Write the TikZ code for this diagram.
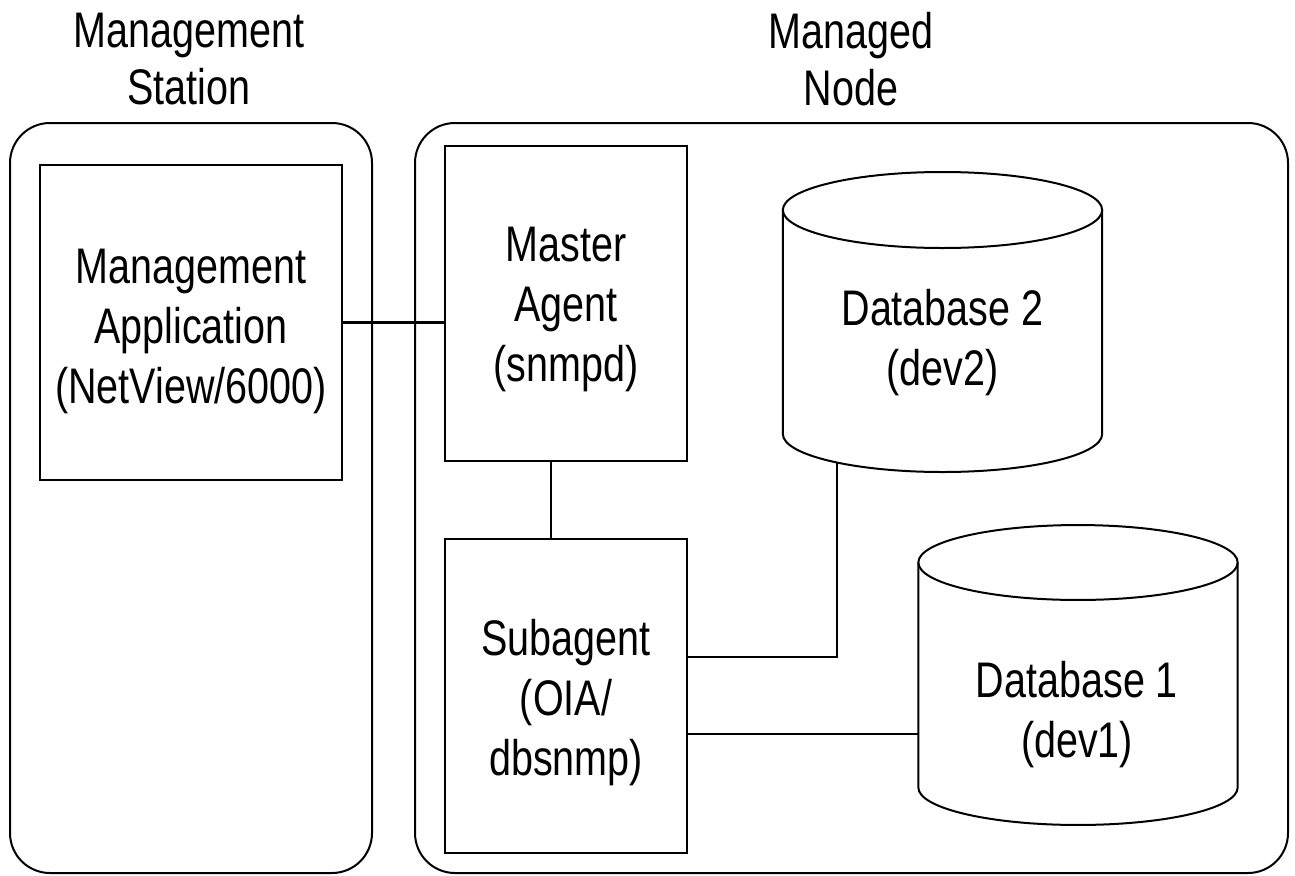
\documentclass[tikz,border=0pt]{standalone}
\usepackage{fontspec}
\setmainfont{Liberation Sans}[FakeStretch=0.79]
\usetikzlibrary{calc}
\begin{document}
\begin{tikzpicture}[x=0.75pt,y=0.75pt,
  every node/.style={inner sep=0pt, outer sep=0pt},
  frame/.style={draw, line width=1.5pt, rounded corners=30pt},
  box/.style={draw, line width=2.2pt},
  body/.style={minimum width=239.5pt},
  wire/.style={line width=1.6pt},
  cyl/.style={line width=1.5pt},
  lbl/.style={align=center, font=\fontsize{37.5pt}{45pt}\selectfont},
  ttl/.style={align=center, font=\fontsize{37.5pt}{42.75pt}\selectfont}]
\useasboundingbox (0,0) rectangle (1295,-875);

% outer frames
\node[frame, minimum width=271.5pt, minimum height=562.5pt] (station) at (191,-498) {};
\node[frame, minimum width=654.75pt, minimum height=562.5pt] (managed) at (851.5,-498) {};

% titles
\node[ttl] (tstation) at (189,-59.5) {Management\\Station};
\node[ttl] (tnode) at (851,-59.5) {Managed\\Node};

% boxes
\node[box, minimum width=226.5pt, minimum height=236.25pt] (mgmt) at (191,-322.5) {};
\node[box, minimum width=181.5pt, minimum height=236.25pt] (master) at (566,-303.5) {};
\node[box, minimum width=181.5pt, minimum height=235.5pt] (sub) at (566,-696) {};

\node[lbl] (tmgmt) at (191,-331) {Management\\Application\\(NetView/6000)};
\node[lbl] (tmaster) at (566,-309) {Master\\Agent\\(snmpd)};
\node[lbl] (tsub) at (566,-703) {Subagent\\(OIA/\\dbsnmp)};

% databases
\node[body, minimum height=168pt] (db2) at (942.5,-322) {};
\draw[cyl] (db2.north west) -- (db2.south west)
  arc[start angle=180, end angle=360, x radius=119.75pt, y radius=28.5pt] -- (db2.north east);
\draw[cyl] (db2.north) ellipse [x radius=119.75pt, y radius=28.5pt];
\node[lbl] (tdb2) at (942.5,-343) {Database 2\\(dev2)};

\node[body, minimum height=168.75pt] (db1) at (1078,-675) {};
\draw[cyl] (db1.north west) -- (db1.south west)
  arc[start angle=180, end angle=360, x radius=119.75pt, y radius=28.1pt] -- (db1.north east);
\draw[cyl] (db1.north) ellipse [x radius=119.75pt, y radius=28.1pt];
\node[lbl] (tdb1) at (1077,-714.5) {Database 1\\(dev1)};

% connectors
\coordinate (db2c) at (837,-462.5);
\draw[wire] (mgmt.east) -- (mgmt.east -| master.west);
\draw[wire] ([xshift=-11.25pt]master.south) -- ([xshift=-11.25pt]sub.north);
\draw[wire] ([yshift=29.25pt]sub.east) -| (db2c);
\draw[wire] ([yshift=-28.5pt]sub.east) -- ([yshift=-28.5pt]sub.east -| db1.west);
\end{tikzpicture}
\end{document}
